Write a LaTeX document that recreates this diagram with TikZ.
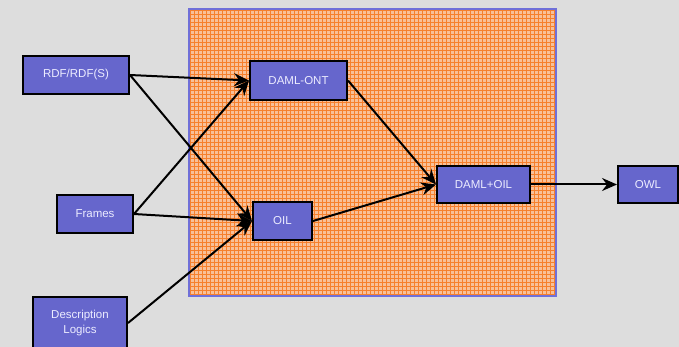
\documentclass[tikz,border=0pt]{standalone}
\usepackage{fontspec}
\setmainfont{Liberation Sans}
\usetikzlibrary{arrows.meta}
\definecolor{bggray}{RGB}{221,221,221}
\definecolor{boxblue}{RGB}{102,102,204}
\definecolor{boxtext}{RGB}{236,236,255}
\definecolor{gridbase}{RGB}{248,192,152}
\definecolor{gridline}{RGB}{246,128,44}
\definecolor{frameblue}{RGB}{112,112,216}
\tikzset{
  langbox/.style={draw=black, line width=2pt, fill=boxblue, text=boxtext,
    font=\fontsize{11.5}{15.5}\selectfont, align=center, inner sep=0pt},
  flow/.style={draw=black, line width=2pt,
    -{Stealth[length=15pt,width=13pt,inset=5pt]}}
}
\begin{document}
\begin{tikzpicture}[x=1pt,y=-1pt]
  % page background
  \fill[bggray] (0,0) rectangle (679,347);
  \useasboundingbox (0,0) rectangle (679,347);
  % hatched region
  \fill[gridbase] (189,9) rectangle (556,296);
  \begin{scope}
    \clip (189,9) rectangle (556,296);
    \foreach \gx in {190,194,...,556} {\draw[gridline, line width=0.7pt] (\gx,9) -- (\gx,296);}
    \foreach \gy in {10,14,...,296} {\draw[gridline, line width=0.7pt] (189,\gy) -- (556,\gy);}
  \end{scope}
  \draw[frameblue, line width=2pt] (189,9) rectangle (556,296);

  % languages
  \node[langbox, minimum width=106pt, minimum height=38pt] (rdf) at (76,75) {RDF/RDF(S)};
  \node[langbox, minimum width=76pt, minimum height=38pt] (frames) at (95,214) {Frames};
  \node[langbox, minimum width=94pt, minimum height=52pt] (dl) at (80,323) {Description\\Logics};
  \node[langbox, minimum width=97pt, minimum height=39pt] (damlont) at (298.5,80.5) {DAML-ONT};
  \node[langbox, minimum width=59pt, minimum height=38pt] (oil) at (282.5,221) {OIL};
  \node[langbox, minimum width=93pt, minimum height=37pt] (damloil) at (483.5,184.5) {DAML+OIL};
  \node[langbox, minimum width=60pt, minimum height=37pt] (owl) at (648,184.5) {OWL};

  % influences
  \draw[flow] (rdf.east) -- (damlont.west);
  \draw[flow] (rdf.east) -- (oil.west);
  \draw[flow] (frames.east) -- (damlont.west);
  \draw[flow] (frames.east) -- (oil.west);
  \draw[flow] (dl.east) -- (oil.west);
  \draw[flow] (damlont.east) -- (damloil.west);
  \draw[flow] (oil.east) -- (damloil.west);
  \draw[flow] (damloil.east) -- (owl.west);
\end{tikzpicture}
\end{document}
